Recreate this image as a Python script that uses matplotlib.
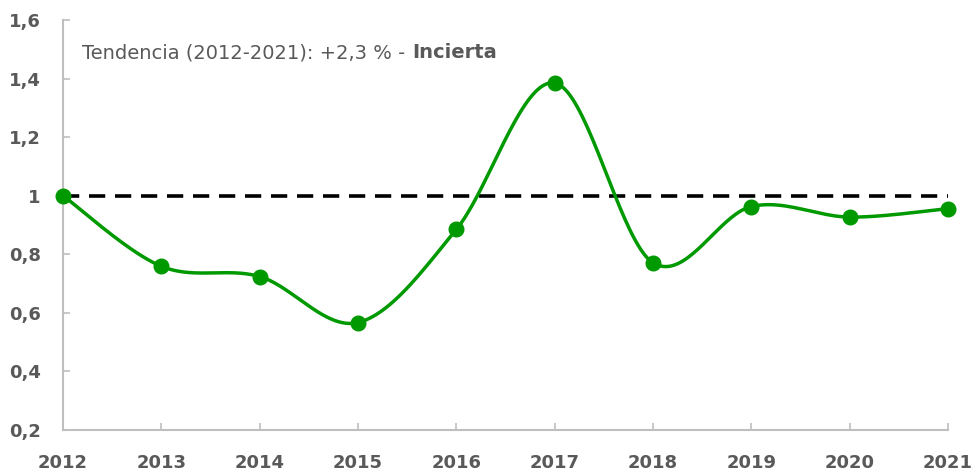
import numpy as np
import matplotlib
matplotlib.use("Agg")
import matplotlib.pyplot as plt
from matplotlib.ticker import FixedLocator, FuncFormatter

years = [2012, 2013, 2014, 2015, 2016, 2017, 2018, 2019, 2020, 2021]
values = [1.0, 0.759, 0.724, 0.567, 0.885, 1.385, 0.771, 0.963, 0.927, 0.956]
reference = 1.0
y_ticks = [0.2, 0.4, 0.6, 0.8, 1.0, 1.2, 1.4, 1.6]
label_main = "Tendencia (2012-2021): +2,3 % - "
label_bold = "Incierta"

GREEN = "#009900"
GRAY = "#595959"
AXIS = "#bfbfbf"

fig = plt.figure(figsize=(9.78, 4.75), dpi=100)
ax = fig.add_axes([63/978, 45/475, (948-63)/978, (455-45)/475])


def smooth(xs, ys, n=40):
    # Excel-style smoothed line: cubic Bezier with control points from neighbours
    xs = np.asarray(xs, float)
    ys = np.asarray(ys, float)
    px, py = [], []
    for i in range(len(xs) - 1):
        x0, y0 = xs[i], ys[i]
        x1, y1 = xs[i + 1], ys[i + 1]
        xm = xs[i - 1] if i > 0 else x0
        ym = ys[i - 1] if i > 0 else y0
        xp = xs[i + 2] if i + 2 < len(xs) else x1
        yp = ys[i + 2] if i + 2 < len(ys) else y1
        c1x, c1y = x0 + (x1 - xm) / 6, y0 + (y1 - ym) / 6
        c2x, c2y = x1 - (xp - x0) / 6, y1 - (yp - y0) / 6
        t = np.linspace(0, 1, n)
        bx = (1-t)**3*x0 + 3*(1-t)**2*t*c1x + 3*(1-t)*t**2*c2x + t**3*x1
        by = (1-t)**3*y0 + 3*(1-t)**2*t*c1y + 3*(1-t)*t**2*c2y + t**3*y1
        px.extend(bx); py.extend(by)
    return np.array(px), np.array(py)

sx, sy = smooth(years, values)
ax.plot([years[0], years[-1]], [reference, reference], color="black", lw=2.6,
        dashes=(4.5, 2.7), zorder=2)
ax.plot(sx, sy, color=GREEN, lw=2.5, zorder=3, solid_capstyle="round")
ax.plot(years, values, "o", color=GREEN, markersize=10.5, zorder=4)

ax.set_xlim(years[0], years[-1])
ax.set_ylim(0.2, 1.6)
ax.xaxis.set_major_locator(FixedLocator(years))
ax.yaxis.set_major_locator(FixedLocator(y_ticks))
ax.yaxis.set_major_formatter(FuncFormatter(
    lambda v, p: ("%g" % round(v, 1)).replace(".", ",")))

for s in ["top", "right"]:
    ax.spines[s].set_visible(False)
for s in ["left", "bottom"]:
    ax.spines[s].set_color(AXIS)
    ax.spines[s].set_linewidth(1.5)

ax.tick_params(axis="both", direction="in", length=5, width=1.2, color=AXIS,
               labelcolor=GRAY, labelsize=13)
ax.tick_params(axis="x", pad=17)
ax.tick_params(axis="y", pad=16)
for lab in ax.get_xticklabels() + ax.get_yticklabels():
    lab.set_fontweight("bold")
for ln in ax.lines:
    ln.set_clip_on(False)

t1 = ax.text(0.022, 0.907, label_main, transform=ax.transAxes, fontsize=14,
             color=GRAY, va="baseline", ha="left")
ax.annotate(label_bold, xy=(1, 0), xycoords=t1, xytext=(0, 0),
            textcoords="offset points", fontsize=14, color=GRAY,
            fontweight="bold", va="bottom", ha="left")

fig.savefig("out.png", dpi=100)
